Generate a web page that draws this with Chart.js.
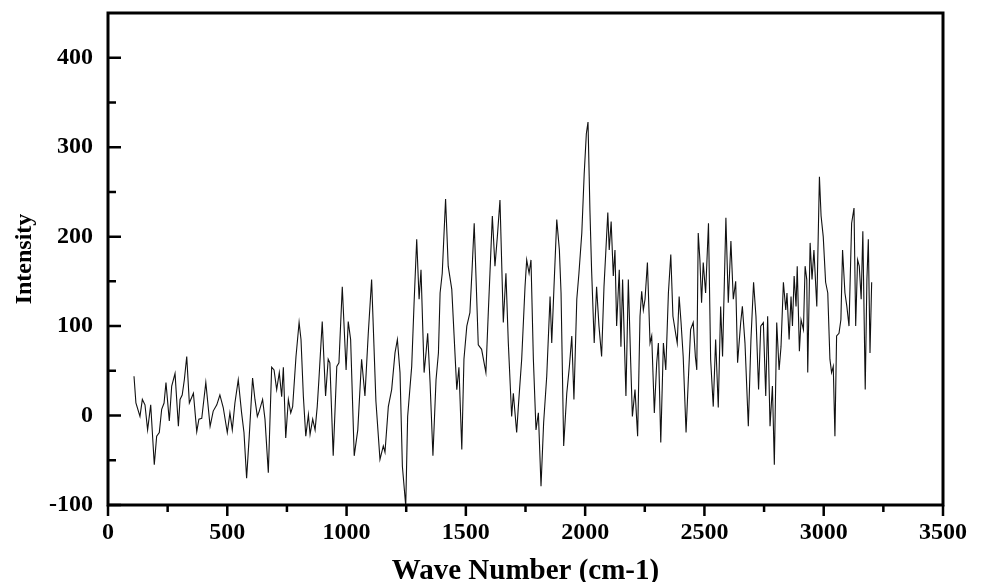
<!DOCTYPE html>
<html>
<head>
<meta charset="utf-8">
<script src="https://cdn.jsdelivr.net/npm/chart.js@4.4.0/dist/chart.umd.min.js"></script>
<style>
  html, body { margin: 0; padding: 0; background: #fff; }
  #wrap { width: 984px; height: 582px; }
</style>
</head>
<body>
<div id="wrap"><canvas id="spectrumChart" width="984" height="582"></canvas></div>
<script>
// spectrum: wave number (cm-1) and intensity
const waveNumbers = [
    109, 117, 134, 144, 155, 166, 179, 194, 204, 215, 225, 235, 243, 257, 267, 281, 295, 302, 311, 320,
    330, 341, 358, 372, 381, 393, 410, 428, 441, 456, 469, 483, 500, 511, 521, 532, 546, 560, 570, 581,
    592, 606, 616, 626, 634, 648, 658, 672, 686, 696, 707, 718, 728, 735, 745, 756, 766, 774, 788, 801,
    809, 819, 829, 840, 847, 858, 868, 877, 884, 898, 912, 923, 930, 944, 959, 968, 982, 998, 1007, 1017,
    1032, 1047, 1063, 1077, 1091, 1105, 1123, 1140, 1154, 1161, 1175, 1189, 1203, 1213, 1224, 1234, 1248, 1256, 1273, 1283,
    1294, 1304, 1312, 1325, 1333, 1340, 1350, 1362, 1375, 1385, 1392, 1401, 1415, 1426, 1441, 1462, 1471, 1483, 1492, 1504,
    1517, 1526, 1535, 1552, 1566, 1584, 1594, 1601, 1611, 1622, 1632, 1643, 1657, 1668, 1678, 1692, 1699, 1713, 1720, 1734,
    1748, 1755, 1765, 1773, 1783, 1794, 1804, 1815, 1826, 1839, 1853, 1860, 1869, 1881, 1892, 1899, 1910, 1923, 1934, 1944,
    1953, 1965, 1974, 1986, 1996, 2005, 2012, 2020, 2027, 2038, 2048, 2058, 2069, 2079, 2087, 2095, 2101, 2109, 2118, 2125,
    2132, 2143, 2150, 2157, 2171, 2181, 2191, 2198, 2209, 2220, 2230, 2237, 2244, 2251, 2261, 2272, 2279, 2290, 2300, 2307,
    2317, 2328, 2338, 2349, 2359, 2368, 2381, 2386, 2394, 2402, 2411, 2423, 2432, 2442, 2453, 2462, 2468, 2474, 2481, 2488,
    2495, 2505, 2517, 2526, 2537, 2547, 2558, 2568, 2576, 2590, 2600, 2611, 2621, 2631, 2639, 2652, 2659, 2670, 2684, 2695,
    2706, 2716, 2727, 2736, 2747, 2757, 2765, 2775, 2785, 2793, 2803, 2813, 2821, 2831, 2841, 2846, 2855, 2863, 2869, 2876,
    2884, 2889, 2898, 2905, 2915, 2922, 2929, 2933, 2943, 2951, 2959, 2971, 2982, 2989, 2998, 3008, 3017, 3026, 3033, 3040,
    3047, 3054, 3064, 3072, 3079, 3089, 3097, 3106, 3117, 3127, 3134, 3142, 3149, 3157, 3164, 3174, 3181, 3187, 3194, 3201
];
const intensities = [
    44, 14, -1, 18, 12, -16, 12, -55, -23, -19, 7, 14, 37, -6, 33, 47, -12, 18, 23, 40,
    66, 14, 25, -18, -4, -3, 37, -12, 5, 12, 23, 9, -19, 3, -16, 14, 40, 3, -19, -70,
    -23, 42, 18, -1, 5, 18, -4, -64, 54, 51, 29, 48, 21, 54, -25, 18, 3, 10, 66, 104,
    85, 21, -23, 1, -21, -4, -16, 10, 40, 105, 22, 63, 59, -45, 55, 59, 144, 51, 105, 85,
    -45, -16, 63, 22, 92, 152, 16, -49, -34, -41, 10, 29, 70, 85, 48, -57, -101, -1, 55, 126,
    197, 130, 163, 48, 70, 92, 37, -45, 40, 70, 137, 159, 242, 167, 141, 29, 54, -38, 63, 100,
    115, 163, 215, 79, 74, 48, 115, 159, 223, 167, 200, 241, 104, 159, 81, -1, 25, -19, 10, 63,
    144, 174, 159, 174, 63, -16, 3, -79, -8, 44, 133, 81, 141, 219, 185, 137, -34, 25, 55, 89,
    18, 130, 159, 204, 270, 315, 328, 230, 163, 81, 144, 100, 66, 144, 185, 227, 185, 217, 156, 185,
    100, 163, 77, 152, 22, 152, 59, -1, 29, -23, 111, 139, 118, 130, 171, 81, 89, 3, 59, 81,
    -30, 81, 51, 137, 180, 111, 89, 81, 133, 104, 66, -19, 37, 96, 104, 66, 51, 204, 174, 126,
    171, 137, 215, 63, 10, 85, 9, 122, 66, 221, 126, 195, 130, 150, 59, 104, 122, 81, -12, 85,
    149, 111, 29, 100, 104, 22, 111, -12, 33, -55, 104, 51, 77, 149, 118, 137, 85, 133, 100, 156,
    122, 167, 72, 107, 96, 167, 152, 48, 193, 152, 185, 122, 267, 223, 200, 149, 137, 63, 48, 55,
    -23, 89, 92, 107, 185, 137, 122, 100, 215, 232, 100, 174, 167, 130, 206, 29, 152, 197, 70, 149
];

const xTicks = [0, 500, 1000, 1500, 2000, 2500, 3000, 3500];
const xMinorTicks = [250, 750, 1250, 1750, 2250, 2750, 3250];
const yTicks = [-100, 0, 100, 200, 300, 400];
const yMinorTicks = [-50, 50, 150, 250, 350];

const xTitle = "Wave Number (cm-1)";
const yTitle = "Intensity";

const serif = "'Liberation Serif', 'Times New Roman', serif";

const points = waveNumbers.map((x, i) => ({ x: x, y: intensities[i] }));

// box frame + tick marks (y inward, x outward), major and minor
const framePlugin = {
    id: "frameTicks",
    afterDraw(chart) {
        const ctx = chart.ctx;
        const area = chart.chartArea;
        const xs = chart.scales.x, ys = chart.scales.y;
        ctx.save();
        ctx.strokeStyle = "#000";
        ctx.lineWidth = 3;
        ctx.strokeRect(area.left, area.top, area.right - area.left, area.bottom - area.top);

        ctx.lineWidth = 2.5;
        ctx.beginPath();
        yTicks.forEach(v => {
            const p = ys.getPixelForValue(v);
            ctx.moveTo(area.left, p);
            ctx.lineTo(area.left + 13, p);
        });
        yMinorTicks.forEach(v => {
            const p = ys.getPixelForValue(v);
            ctx.moveTo(area.left, p);
            ctx.lineTo(area.left + 8, p);
        });
        xTicks.forEach(v => {
            const p = xs.getPixelForValue(v);
            ctx.moveTo(p, area.bottom);
            ctx.lineTo(p, area.bottom + 11);
        });
        xMinorTicks.forEach(v => {
            const p = xs.getPixelForValue(v);
            ctx.moveTo(p, area.bottom);
            ctx.lineTo(p, area.bottom + 7);
        });
        ctx.stroke();
        ctx.restore();
    }
};

new Chart(document.getElementById("spectrumChart").getContext("2d"), {
    type: "line",
    data: {
        datasets: [{
            label: yTitle,
            data: points,
            borderColor: "#111",
            borderWidth: 1.1,
            fill: false,
            tension: 0,
            pointRadius: 0
        }]
    },
    options: {
        responsive: false,
        animation: false,
        layout: {
            padding: { top: 13, right: 41, left: 0, bottom: 0 }
        },
        plugins: {
            legend: { display: false },
            tooltip: { enabled: false }
        },
        scales: {
            x: {
                type: "linear",
                min: 0,
                max: 3500,
                afterBuildTicks: s => { s.ticks = xTicks.map(v => ({ value: v })); },
                afterFit: s => { s.height = 77; s.paddingLeft = 0; s.paddingRight = 0; },
                border: { display: false },
                grid: { display: false, drawTicks: false },
                ticks: {
                    color: "#000",
                    padding: 13,
                    maxRotation: 0,
                    autoSkip: false,
                    callback: v => String(v),
                    font: { family: serif, size: 24, weight: "bold" }
                },
                title: {
                    display: true,
                    text: xTitle,
                    color: "#000",
                    padding: { top: 0, bottom: -4 },
                    font: { family: serif, size: 29, weight: "bold", lineHeight: 1 }
                }
            },
            y: {
                min: -100,
                max: 450,
                afterBuildTicks: s => { s.ticks = yTicks.map(v => ({ value: v })); },
                afterFit: s => { s.width = 108; s.paddingTop = 0; s.paddingBottom = 0; },
                border: { display: false },
                grid: { display: false, drawTicks: false },
                ticks: {
                    color: "#000",
                    padding: 15,
                    autoSkip: false,
                    callback: v => String(v),
                    font: { family: serif, size: 24, weight: "bold" }
                },
                title: {
                    display: true,
                    text: yTitle,
                    color: "#000",
                    padding: { top: 10, bottom: 0 },
                    font: { family: serif, size: 24, weight: "bold", lineHeight: 1.2 }
                }
            }
        }
    },
    plugins: [framePlugin]
});
</script>
</body>
</html>
